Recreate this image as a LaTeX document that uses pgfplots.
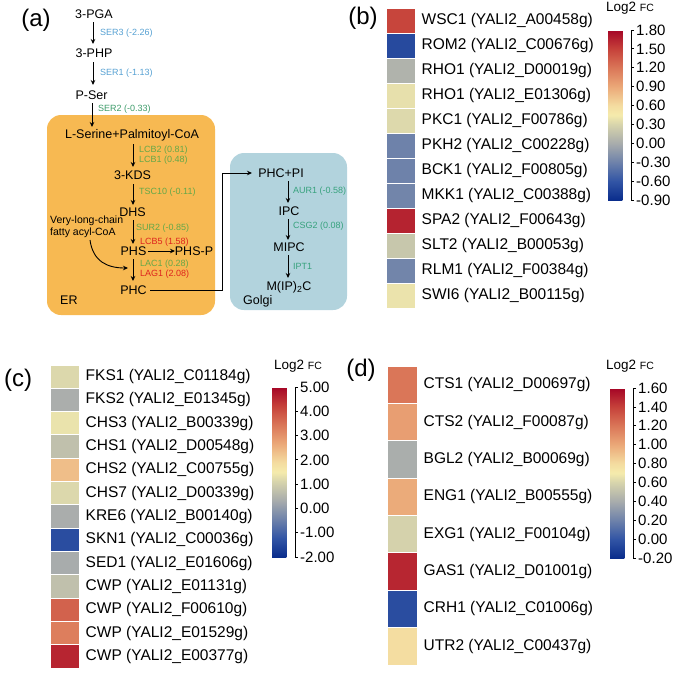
\documentclass[border=0pt]{standalone}
\usepackage{pgfplots}
\pgfplotsset{compat=1.18}
\usepackage{fontspec}
\setmainfont{Liberation Sans}
\usetikzlibrary{arrows.meta}

\definecolor{ercol}{RGB}{247,185,82}
\definecolor{golgicol}{RGB}{178,211,221}
\definecolor{gblue}{RGB}{85,160,210}
\definecolor{ggreen}{RGB}{100,168,72}
\definecolor{gser}{RGB}{60,155,105}
\definecolor{gteal}{RGB}{55,162,125}
\definecolor{gred}{RGB}{222,35,30}

\pgfplotsset{
  colormap={lfc}{rgb255(0cm)=(10,45,140); rgb255(2cm)=(50,85,165); rgb255(4cm)=(110,130,170); rgb255(6cm)=(168,172,172); rgb255(8cm)=(215,212,172); rgb255(9cm)=(245,235,172); rgb255(10cm)=(244,220,160); rgb255(12cm)=(235,168,120); rgb255(14cm)=(218,118,88); rgb255(16cm)=(198,65,58); rgb255(18cm)=(165,5,38)},
  heat/.style={scale only axis, anchor=north west, xmin=0, xmax=1,
    y dir=reverse, axis line style={draw=none}, xtick=\empty,
    ytick style={draw=none}, yticklabel pos=right,
    yticklabel style={anchor=west, inner sep=0pt, xshift=6.5pt, font=\fontsize{15.5}{18}\selectfont},
    colormap name=lfc, clip=false, colorbar},
  cbcommon/.style={at={(parent axis.north east)}, anchor=north west,
    xshift=184.5pt, yshift=-22pt, scale only axis, width=23pt, height=170pt,
    y dir=normal, axis x line=none, axis y line*=right,
    axis line style={draw=black, line width=0.8pt},
    tick align=outside, major tick length=3pt,
    ytick style={draw=black, line width=0.8pt},
    yticklabel style={anchor=west, xshift=0pt, inner sep=2pt, font=\fontsize{15}{17}\selectfont}},
  heatpatch/.style={patch, patch type=rectangle, shader=faceted, faceted color=white, line width=1pt, point meta=explicit}
}

\begin{document}
\begin{tikzpicture}
\path[use as bounding box] (0pt,0pt) rectangle (676pt,-673pt);

% ---------------- panel (a) ----------------
\begin{scope}[x=1pt,y=-1pt, every node/.style={inner sep=0pt},
  arr/.style={-{Stealth[length=5pt,width=4.5pt]}, line width=0.9pt},
  met/.style={font=\fontsize{12.5}{14}\selectfont},
  gene/.style={anchor=west, font=\fontsize{9}{10}\selectfont}]
\fill[ercol, rounded corners=14pt] (47,115) rectangle (215,315);
\fill[golgicol, rounded corners=14pt] (230,153) rectangle (347,310);

\node[font=\fontsize{24}{28}\selectfont] at (36,20) {(a)};

\node[met] at (94,14) {3-PGA};
\draw[arr] (93,22) -- (93,44);
\node[gene, text=gblue] at (100,33) {SER3 (-2.26)};
\node[met] at (94,53) {3-PHP};
\draw[arr] (93,62) -- (93,85);
\node[gene, text=gblue] at (100,73) {SER1 (-1.13)};
\node[met] at (91.5,95) {P-Ser};
\draw[arr] (92,103) -- (92,127);
\node[gene, text=gser] at (98,109) {SER2 (-0.33)};

\node[met] at (132,135) {L-Serine+Palmitoyl-CoA};
\draw[arr] (133,144) -- (133,167);
\node[gene, text=ggreen] at (139,150) {LCB2 (0.81)};
\node[gene, text=ggreen] at (139,160) {LCB1 (0.48)};
\node[met] at (132.5,175) {3-KDS};
\draw[arr] (133,184) -- (133,205);
\node[gene, text=ggreen] at (139,192) {TSC10 (-0.11)};
\node[met] at (132.5,212) {DHS};
\draw[arr] (133,220) -- (133,244);
\node[gene, text=ggreen] at (136,228) {SUR2 (-0.85)};
\node[gene, text=gred] at (140,242) {LCB5 (1.58)};
\node[met] at (133.5,251) {PHS};
\draw[arr] (148,251) -- (175,251);
\node[met] at (194,251) {PHS-P};
\draw[arr] (133,259) -- (133,281);
\node[gene, text=ggreen] at (140,264) {LAC1 (0.28)};
\node[gene, text=gred] at (140,274) {LAG1 (2.08)};
\node[met] at (133.5,290) {PHC};
\node[anchor=west, font=\fontsize{10.5}{12}\selectfont] at (50,221) {Very-long-chain};
\node[anchor=west, font=\fontsize{10.5}{12}\selectfont] at (50,233) {fatty acyl-CoA};
\draw[arr] (90,240) .. controls (93,262) and (108,268) .. (128,268);
\node[met, anchor=west] at (60,300) {ER};

\draw[arr] (150,290) -- (222,290) -- (222,173) -- (252,173);
\node[met] at (281,173) {PHC+PI};
\draw[arr] (288,181) -- (288,203);
\node[gene, text=gteal] at (293,191) {AUR1 (-0.58)};
\node[met] at (289,211) {IPC};
\draw[arr] (288,219) -- (288,240);
\node[gene, text=gteal] at (293,226) {CSG2 (0.08)};
\node[met] at (289,247) {MIPC};
\draw[arr] (288,255) -- (288,278);
\node[gene, text=gteal] at (293,266) {IPT1};
\node[met] at (289,287) {M(IP)\textsubscript{2}C};
\node[met, anchor=west] at (243,301) {Golgi};

\node[font=\fontsize{24}{28}\selectfont] at (363,18) {(b)};
\node[font=\fontsize{24}{28}\selectfont] at (18,380) {(c)};
\node[font=\fontsize{24}{28}\selectfont] at (361,370) {(d)};

\node at (630,8) {\fontsize{13.5}{15}\selectfont Log2 \fontsize{10.5}{12}\selectfont FC};
\node at (298,366) {\fontsize{13.5}{15}\selectfont Log2 \fontsize{10.5}{12}\selectfont FC};
\node at (630,366) {\fontsize{13.5}{15}\selectfont Log2 \fontsize{10.5}{12}\selectfont FC};
\end{scope}

% ---------------- panel (b) ----------------
\begin{axis}[heat, at={(386pt,-8pt)}, width=29pt, height=300pt, ymin=0, ymax=12,
  point meta min=-0.9, point meta max=1.8,
  ytick={0.5,1.5,2.5,3.5,4.5,5.5,6.5,7.5,8.5,9.5,10.5,11.5},
  yticklabels={{WSC1 (YALI2\_A00458g)},{ROM2 (YALI2\_C00676g)},{RHO1 (YALI2\_D00019g)},{RHO1 (YALI2\_E01306g)},{PKC1 (YALI2\_F00786g)},{PKH2 (YALI2\_C00228g)},{BCK1 (YALI2\_F00805g)},{MKK1 (YALI2\_C00388g)},{SPA2 (YALI2\_F00643g)},{SLT2 (YALI2\_B00053g)},{RLM1 (YALI2\_F00384g)},{SWI6 (YALI2\_B00115g)}},
  colorbar style={cbcommon,
    ytick={-0.9,-0.6,-0.3,0,0.3,0.6,0.9,1.2,1.5,1.8},
    yticklabels={-0.90,-0.60,-0.30,0.00,0.30,0.60,0.90,1.20,1.50,1.80}}]
\addplot[heatpatch] table[meta=c] {
x y c
0 0 1.48
1 0 1.48
1 1 1.48
0 1 1.48
0 1 -0.68
1 1 -0.68
1 2 -0.68
0 2 -0.68
0 2 0.05
1 2 0.05
1 3 0.05
0 3 0.05
0 3 0.38
1 3 0.38
1 4 0.38
0 4 0.38
0 4 0.33
1 4 0.33
1 5 0.33
0 5 0.33
0 5 -0.30
1 5 -0.30
1 6 -0.30
0 6 -0.30
0 6 -0.30
1 6 -0.30
1 7 -0.30
0 7 -0.30
0 7 -0.28
1 7 -0.28
1 8 -0.28
0 8 -0.28
0 8 1.65
1 8 1.65
1 9 1.65
0 9 1.65
0 9 0.20
1 9 0.20
1 10 0.20
0 10 0.20
0 10 -0.28
1 10 -0.28
1 11 -0.28
0 11 -0.28
0 11 0.40
1 11 0.40
1 12 0.40
0 12 0.40
};
\end{axis}

% ---------------- panel (c) ----------------
\begin{axis}[heat, at={(50pt,-365pt)}, width=29pt, height=303pt, ymin=0, ymax=13,
  point meta min=-2, point meta max=5,
  ytick={0.5,1.5,2.5,3.5,4.5,5.5,6.5,7.5,8.5,9.5,10.5,11.5,12.5},
  yticklabels={{FKS1 (YALI2\_C01184g)},{FKS2 (YALI2\_E01345g)},{CHS3 (YALI2\_B00339g)},{CHS1 (YALI2\_D00548g)},{CHS2 (YALI2\_C00755g)},{CHS7 (YALI2\_D00339g)},{KRE6 (YALI2\_B00140g)},{SKN1 (YALI2\_C00036g)},{SED1 (YALI2\_E01606g)},{CWP (YALI2\_E01131g)},{CWP (YALI2\_F00610g)},{CWP (YALI2\_E01529g)},{CWP (YALI2\_E00377g)}},
  colorbar style={cbcommon,
    ytick={-2,-1,0,1,2,3,4,5},
    yticklabels={-2.00,-1.00,0.00,1.00,2.00,3.00,4.00,5.00}}]
\addplot[heatpatch] table[meta=c] {
x y c
0 0 1.18
1 0 1.18
1 1 1.18
0 1 1.18
0 1 0.38
1 1 0.38
1 2 0.38
0 2 0.38
0 2 1.36
1 2 1.36
1 3 1.36
0 3 1.36
0 3 0.73
1 3 0.73
1 4 0.73
0 4 0.73
0 4 2.34
1 4 2.34
1 5 2.34
0 5 2.34
0 5 1.18
1 5 1.18
1 6 1.18
0 6 1.18
0 6 0.36
1 6 0.36
1 7 0.36
0 7 0.36
0 7 -1.37
1 7 -1.37
1 8 -1.37
0 8 -1.37
0 8 0.33
1 8 0.33
1 9 0.33
0 9 0.33
0 9 0.73
1 9 0.73
1 10 0.73
0 10 0.73
0 10 3.74
1 10 3.74
1 11 3.74
0 11 3.74
0 11 3.32
1 11 3.32
1 12 3.32
0 12 3.32
0 12 4.58
1 12 4.58
1 13 4.58
0 13 4.58
};
\end{axis}

% ---------------- panel (d) ----------------
\begin{axis}[heat, at={(387pt,-366pt)}, width=30pt, height=299pt, ymin=0, ymax=8,
  point meta min=-0.2, point meta max=1.6,
  ytick={0.5,1.5,2.5,3.5,4.5,5.5,6.5,7.5},
  yticklabels={{CTS1 (YALI2\_D00697g)},{CTS2 (YALI2\_F00087g)},{BGL2 (YALI2\_B00069g)},{ENG1 (YALI2\_B00555g)},{EXG1 (YALI2\_F00104g)},{GAS1 (YALI2\_D01001g)},{CRH1 (YALI2\_C01006g)},{UTR2 (YALI2\_C00437g)}},
  colorbar style={cbcommon,
    ytick={-0.2,0,0.2,0.4,0.6,0.8,1.0,1.2,1.4,1.6},
    yticklabels={-0.20,0.00,0.20,0.40,0.60,0.80,1.00,1.20,1.40,1.60}}]
\addplot[heatpatch] table[meta=c] {
x y c
0 0 1.20
1 0 1.20
1 1 1.20
0 1 1.20
0 1 1.04
1 1 1.04
1 2 1.04
0 2 1.04
0 2 0.41
1 2 0.41
1 3 0.41
0 3 0.41
0 3 0.99
1 3 0.99
1 4 0.99
0 4 0.99
0 4 0.59
1 4 0.59
1 5 0.59
0 5 0.59
0 5 1.49
1 5 1.49
1 6 1.49
0 6 1.49
0 6 -0.04
1 6 -0.04
1 7 -0.04
0 7 -0.04
0 7 0.79
1 7 0.79
1 8 0.79
0 8 0.79
};
\end{axis}
\end{tikzpicture}
\end{document}
